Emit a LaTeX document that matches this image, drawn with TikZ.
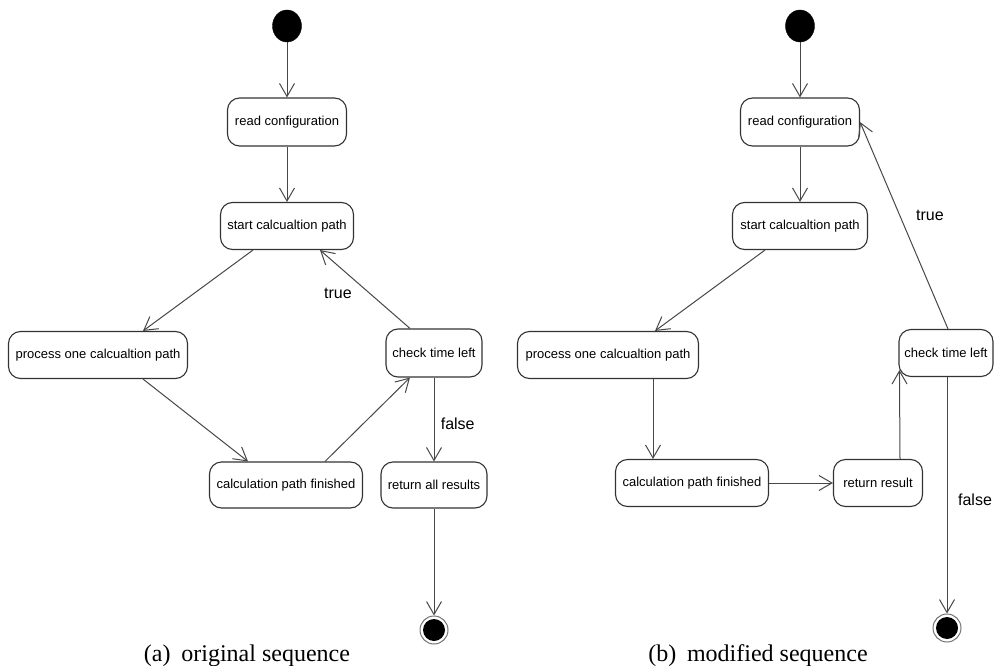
\documentclass[tikz,border=0pt]{standalone}
\usepackage{fontspec}
\setmainfont{Liberation Sans}
\newfontfamily\capfont{Liberation Serif}
\usetikzlibrary{arrows.meta,shapes.geometric}

\tikzset{
  activity/.style={draw=black!80, line width=1.1pt, rounded corners=12pt,
    inner sep=0pt, align=center, font=\fontsize{13}{15}\selectfont},
  initial/.style={ellipse, fill=black, draw=black, inner sep=0pt,
    minimum width=29pt, minimum height=32pt},
  final/.style={circle, draw=black!55, line width=1pt, fill=white, inner sep=0pt,
    minimum size=28pt, path picture={\fill[black] (path picture bounding box.center) circle (11pt);}},
  flow/.style={draw=black!72, line width=1pt, -{Straight Barb[length=13pt,width=15pt,line width=1pt]}},
  guard/.style={font=\fontsize{16}{18}\selectfont},
  subcap/.style={font=\capfont\fontsize{24}{26}\selectfont, anchor=base}
}

\begin{document}
\begin{tikzpicture}[x=1pt, y=-1pt]
\useasboundingbox (0,0) rectangle (994,666);

% ---- (a) original sequence ----
\node[initial] (s1) at (287,26) {};
\node[activity, minimum width=119pt, minimum height=48pt] (rc1) at (287,122) {read configuration};
\node[activity, minimum width=133pt, minimum height=47pt] (sc1) at (287,226) {start calcualtion path};
\node[activity, minimum width=179pt, minimum height=47pt] (p1) at (98,355) {process one calcualtion path};
\node[activity, minimum width=96pt, minimum height=48pt] (ct1) at (434,353) {check time left};
\node[activity, minimum width=153pt, minimum height=46pt] (cf1) at (286,485) {calculation path finished};
\node[activity, minimum width=106pt, minimum height=46pt] (ra1) at (434,485) {return all results};
\node[final] (e1) at (434,630) {};

\draw[flow] (s1) -- (rc1);
\draw[flow] (rc1) -- (sc1);
\draw[flow] ([xshift=-34pt]sc1.south) -- ([xshift=45pt]p1.north);
\draw[flow] ([xshift=45pt]p1.south) -- ([xshift=-38pt]cf1.north);
\draw[flow] ([xshift=39pt]cf1.north) -- ([xshift=-24pt]ct1.south);
\draw[flow] ([xshift=-24pt]ct1.north) -- ([xshift=33pt]sc1.south)
  node[guard, pos=0.45, left=14pt] (t1) {true};
\draw[flow] (ct1.south) -- (ra1.north)
  node[guard, pos=0.55, right=3pt] (f1) {false};
\draw[flow] (ra1.south) -- (e1.north);

\node[subcap] (capa) at (247,661) {(a)\hspace{0.45em}original sequence};

% ---- (b) modified sequence ----
\node[initial] (s2) at (800,26) {};
\node[activity, minimum width=119pt, minimum height=48pt] (rc2) at (800,122) {read configuration};
\node[activity, minimum width=135pt, minimum height=47pt] (sc2) at (800,226) {start calcualtion path};
\node[activity, minimum width=181pt, minimum height=47pt] (p2) at (608,355) {process one calcualtion path};
\node[activity, minimum width=94pt, minimum height=47pt] (ct2) at (946,353) {check time left};
\node[activity, minimum width=153pt, minimum height=47pt] (cf2) at (692,483) {calculation path finished};
\node[activity, minimum width=89pt, minimum height=47pt] (rr2) at (878,483) {return result};
\node[final] (e2) at (947,628) {};

\draw[flow] (s2) -- (rc2);
\draw[flow] (rc2) -- (sc2);
\draw[flow] ([xshift=-35pt]sc2.south) -- ([xshift=47pt]p2.north);
\draw[flow] ([xshift=45pt]p2.south) -- ([xshift=45pt]p2.south |- cf2.north);
\draw[flow] (cf2.east) -- (rr2.west);
\draw[flow] ([xshift=22pt]rr2.north) -- ([xshift=1pt,yshift=7pt]ct2.south west);
\draw[flow] ([xshift=2pt]ct2.north) -- (rc2.east);
\node[guard] (t2) at (930,215) {true};
\draw[flow] ([xshift=1pt]ct2.south) -- (e2.north);
\node[guard] (f2) at (975,500) {false};

\node[subcap] (capb) at (758,661) {(b)\hspace{0.45em}modified sequence};
\end{tikzpicture}
\end{document}
